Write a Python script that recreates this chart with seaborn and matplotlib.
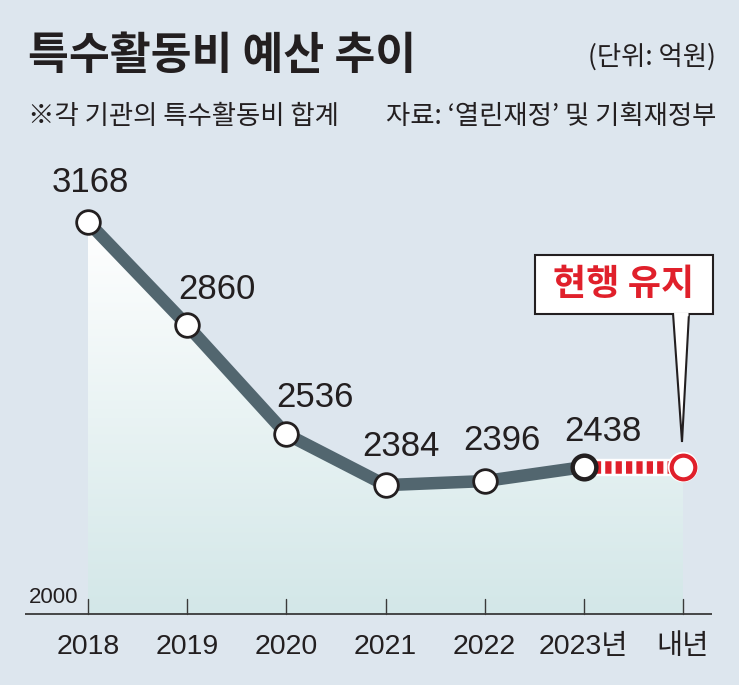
import numpy as np
import pandas as pd
import matplotlib
matplotlib.use("Agg")
import matplotlib.pyplot as plt
import seaborn as sns
from matplotlib import font_manager
from matplotlib.colors import LinearSegmentedColormap
from matplotlib.patches import Polygon, Rectangle

# ---------------- data ----------------
years = ["2018", "2019", "2020", "2021", "2022", "2023년", "내년"]
budget = [3168, 2860, 2536, 2384, 2396, 2438]          # 억원
next_year_budget = 2438                                   # 현행 유지
axis_base = 2000
title = "특수활동비 예산 추이"
unit_text = "(단위: 억원)"
note_text = "※각 기관의 특수활동비 합계"
source_text = "자료: ‘열린재정’ 및 기획재정부"
callout_text = "현행 유지"

# ---------------- style ----------------
sns.set_theme(style="white")
W, H = 739, 685
BG = "#dde6ee"
LINE = "#52666f"
RED = "#e0202b"
DARK = "#231f20"


def has_font(name):
    try:
        font_manager.findfont(font_manager.FontProperties(family=name), fallback_to_default=False)
        return True
    except Exception:
        return False


NARROW = "Liberation Sans Narrow" if has_font("Liberation Sans Narrow") else "Liberation Sans"
KR = "Noto Sans CJK KR"
plt.rcParams["font.family"] = [KR, "DejaVu Sans"]

fig = plt.figure(figsize=(W / 100, H / 100), dpi=100, facecolor=BG)
ax = fig.add_axes([0, 0, 1, 1])
ax.set_facecolor(BG)

# pixel mapping: x=0 at px 88, x=6 at px 683 ; y=2000 at px 614, y=3168 at px 222
px_per_x = (683 - 88) / 6
px_per_y = (614 - 222) / (3168 - 2000)
ax.set_xlim(-88 / px_per_x, 6 + (W - 683) / px_per_x)
ax.set_ylim(axis_base - (H - 614) / px_per_y, axis_base + 614 / px_per_y)
ax.axis("off")

xs = list(range(len(budget)))
all_x = xs + [len(budget)]
all_y = budget + [next_year_budget]
df = pd.DataFrame({"x": xs, "v": budget})

# gradient fill under the line
cmap = LinearSegmentedColormap.from_list("g", ["#d3e7e8", "#ffffff"])
grad = np.linspace(0, 1, 256).reshape(-1, 1)
im = ax.imshow(grad, extent=[0, len(budget), axis_base, max(budget)], origin="lower",
               aspect="auto", cmap=cmap, zorder=1)
poly_pts = [(0, axis_base)] + list(zip(all_x, all_y)) + [(all_x[-1], axis_base)]
clip = Polygon(poly_pts, closed=True, transform=ax.transData, facecolor="none", edgecolor="none")
ax.add_patch(clip)
im.set_clip_path(clip)

# baseline + ticks
ax.plot([-63 / px_per_x, 6 + 29 / px_per_x], [axis_base, axis_base], color="#3a3a3a", lw=1.3,
        zorder=2, solid_capstyle="butt")
tick_h = 15 / px_per_y
for xi in all_x:
    ax.plot([xi, xi], [axis_base, axis_base + tick_h], color="#3a3a3a", lw=1.0, zorder=2)

# red dashed "maintained" segment
ax.plot([len(budget) - 1, len(budget)], [budget[-1], next_year_budget], color="white",
        lw=12.5, solid_capstyle="round", zorder=3)
dash_line, = ax.plot([len(budget) - 1, len(budget)], [budget[-1], next_year_budget], color=RED,
                     lw=9, solid_capstyle="butt", zorder=3.5)
dash_line.set_dashes([0.5, 0.33])
dash_line.set_dash_capstyle("butt")

# main line
sns.lineplot(data=df, x="x", y="v", ax=ax, color=LINE, lw=9, zorder=4, legend=False)
for l in ax.lines[-1:]:
    l.set_solid_capstyle("round")
    l.set_solid_joinstyle("round")

# markers
sns.scatterplot(data=df.iloc[:-1], x="x", y="v", ax=ax, s=290, color="white", edgecolor=DARK,
                linewidth=2.0, zorder=6, legend=False)
ax.scatter([len(budget) - 1], [budget[-1]], s=290, color="white", edgecolor=DARK, linewidth=3.2, zorder=6)
ax.scatter([len(budget)], [next_year_budget], s=480, color="white", edgecolor="none", zorder=5.5)
ax.scatter([len(budget)], [next_year_budget], s=290, color="white", edgecolor=RED, linewidth=3.0, zorder=6)

# value labels (pixel offsets from the point)
label_offsets = [(2, 39), (30, 36), (29, 37), (15, 39), (17, 41), (19, 35)]
for (xi, v), (dx, dy) in zip(zip(xs, budget), label_offsets):
    ax.annotate(f"{v}", (xi, v), xytext=(dx, dy), textcoords="offset pixels", ha="center",
                va="center", fontsize=25, color=DARK, family=[NARROW, KR], zorder=7)

# x tick labels
for xi, lab in zip(all_x, years):
    ax.text(xi, axis_base - 33 / px_per_y, lab, ha="center", va="center", fontsize=20.5,
            color=DARK, family=[NARROW, KR], zorder=7)
ax.text(-34 / px_per_x, axis_base + 16 / px_per_y, str(axis_base), ha="center", va="center",
        fontsize=16, color=DARK, family=[NARROW, KR], zorder=7)

# callout
bx0, bx1, by0, by1 = 535, 713, 255, 314


def fx(p):
    return ax.get_xlim()[0] + p / px_per_x


def fy(p):
    return axis_base + (614 - p) / px_per_y


ax.add_patch(Rectangle((fx(bx0), fy(by1)), fx(bx1) - fx(bx0), fy(by0) - fy(by1), facecolor="white",
                       edgecolor=DARK, lw=1.5, zorder=8))
ax.add_patch(Polygon([(fx(673), fy(by1 - 1)), (fx(682), fy(442)), (fx(689), fy(by1 - 1))], closed=False,
                     facecolor="white", edgecolor=DARK, lw=1.5, zorder=9))
ax.plot([fx(674.5), fx(687.5)], [fy(by1), fy(by1)], color="white", lw=2.5, zorder=9.5,
        solid_capstyle="butt")
ax.text(fx((bx0 + bx1) / 2), fy(285), callout_text, ha="center", va="center", fontsize=26,
        fontweight="bold", color=RED, zorder=10)

# header texts
fig.text(28 / W, 1 - 56 / H, title, ha="left", va="center", fontsize=32, fontweight="bold", color=DARK)
fig.text(716 / W, 1 - 57 / H, unit_text, ha="right", va="center", fontsize=19, color=DARK)
fig.text(28 / W, 1 - 117 / H, note_text, ha="left", va="center", fontsize=19, color=DARK)
fig.text(716 / W, 1 - 117 / H, source_text, ha="right", va="center", fontsize=19, color=DARK)

fig.savefig("out.png", dpi=100, facecolor=BG)
